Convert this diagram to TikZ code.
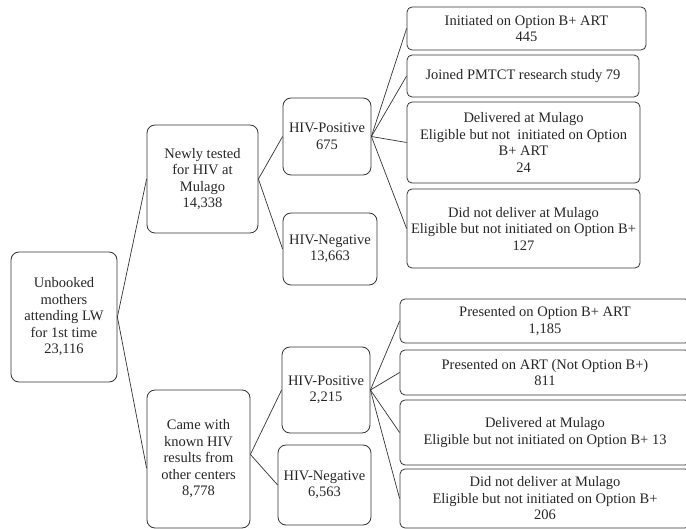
\documentclass[tikz,border=0pt]{standalone}
\usepackage{fontspec}
\setmainfont{Liberation Serif}
\begin{document}
\begin{tikzpicture}[x=1pt,y=-1pt,
  box/.style={draw=black!80, line width=0.8pt, rounded corners=8pt, inner sep=0pt,
    align=center, font=\fontsize{14.5}{16.5}\selectfont, text=black!85},
  rbox/.style={box, rounded corners=5pt},
  conn/.style={draw=black!80, line width=0.7pt}]
\useasboundingbox (0,0) rectangle (686,529);
% left column
\node[box, minimum width=106pt, minimum height=130pt] (root) at (64,317)
  {Unbooked\\mothers\\attending LW\\for 1st time\\23,116};
% middle column
\node[box, minimum width=111pt, minimum height=108pt] (newly) at (202.5,179)
  {Newly tested\\for HIV at\\Mulago\\14,338};
\node[box, minimum width=103pt, minimum height=138pt] (came) at (198.5,459)
  {Came with\\known HIV\\results from\\other centers\\8,778};
% HIV status column
\node[box, minimum width=88pt, minimum height=77pt] (pos1) at (327,136.5)
  {HIV-Positive\\675};
\node[box, minimum width=94pt, minimum height=72pt] (neg1) at (330,249)
  {HIV-Negative\\13,663};
\node[box, minimum width=88pt, minimum height=86pt] (pos2) at (326,390)
  {HIV-Positive\\2,215};
\node[box, minimum width=93pt, minimum height=80pt] (neg2) at (324.5,485)
  {HIV-Negative\\6,563};
% outcomes, first group
\node[rbox, minimum width=239pt, minimum height=43pt] (t1) at (526.5,28.5)
  {Initiated on Option B+ ART\\445};
\node[rbox, minimum width=232pt, minimum height=42pt] (t2) at (523,76)
  {Joined PMTCT research study 79};
\node[rbox, minimum width=233pt, minimum height=81pt] (t3) at (523.5,142.5)
  {Delivered at Mulago\\Eligible but not\ \ initiated on Option\\B+ ART\\24};
\node[rbox, minimum width=233pt, minimum height=79pt] (t4) at (523.5,228.5)
  {Did not deliver at Mulago\\Eligible but not initiated on Option B+\\127};
% outcomes, second group
\node[rbox, minimum width=290pt, minimum height=44pt] (b5) at (545,321)
  {Presented on Option B+ ART\\1,185};
\node[rbox, minimum width=290pt, minimum height=45pt] (b6) at (545,372.5)
  {Presented on ART (Not Option B+)\\811};
\node[rbox, minimum width=290pt, minimum height=65pt] (b7) at (545,432.5)
  {Delivered at Mulago\\Eligible but not initiated on Option B+ 13};
\node[rbox, minimum width=290pt, minimum height=59pt] (b8) at (545,498.5)
  {Did not deliver at Mulago\\Eligible but not initiated on Option B+\\206};
% connectors
\draw[conn] (root.east) -- (newly.west);
\draw[conn] (root.east) -- (came.190);
\draw[conn] (newly.east) -- (pos1.west);
\draw[conn] (newly.east) -- (neg1.west);
\draw[conn] (came.5) -- (pos2.west);
\draw[conn] (came.5) -- (neg2.west);
\foreach \t in {t1,t2,t3,t4} \draw[conn] (pos1.east) -- (\t.west);
\foreach \t in {b5,b6,b7,b8} \draw[conn] (pos2.east) -- (\t.west);
\end{tikzpicture}
\end{document}
